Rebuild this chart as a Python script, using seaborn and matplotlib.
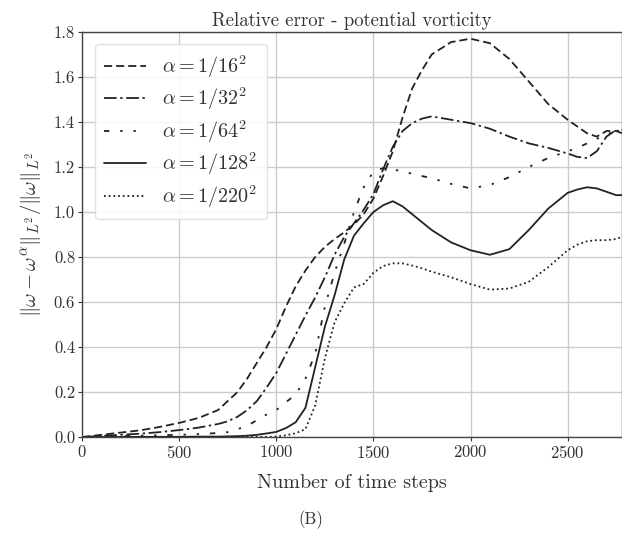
import numpy as np
import pandas as pd
import matplotlib
matplotlib.use("Agg")
import matplotlib.pyplot as plt
import seaborn as sns

steps = [0, 100, 200, 300, 400, 500, 600, 700, 750, 800, 850, 900, 950, 1000, 1050, 1100,
         1150, 1200, 1250, 1300, 1350, 1400, 1450, 1500, 1550, 1600, 1650, 1700, 1750,
         1800, 1900, 2000, 2100, 2200, 2300, 2400, 2500, 2550, 2600, 2650, 2700, 2750, 2780]

err_16 = [0.0, 0.01, 0.02, 0.03, 0.045, 0.063, 0.085, 0.12, 0.16, 0.20, 0.26, 0.33, 0.40,
          0.48, 0.58, 0.67, 0.74, 0.80, 0.845, 0.88, 0.91, 0.945, 0.99, 1.06, 1.16, 1.27,
          1.42, 1.55, 1.63, 1.70, 1.755, 1.77, 1.75, 1.68, 1.58, 1.48, 1.41, 1.38, 1.35,
          1.335, 1.36, 1.36, 1.35]
err_32 = [0.0, 0.005, 0.01, 0.015, 0.022, 0.031, 0.042, 0.058, 0.07, 0.09, 0.12, 0.16,
          0.22, 0.285, 0.37, 0.455, 0.54, 0.62, 0.71, 0.81, 0.89, 0.95, 1.01, 1.08, 1.19,
          1.29, 1.36, 1.395, 1.415, 1.425, 1.41, 1.395, 1.37, 1.335, 1.305, 1.285, 1.26,
          1.245, 1.24, 1.27, 1.335, 1.365, 1.35]
err_64 = [0.0, 0.002, 0.004, 0.006, 0.008, 0.01, 0.013, 0.018, 0.022, 0.035, 0.05, 0.075,
          0.10, 0.12, 0.155, 0.19, 0.26, 0.37, 0.58, 0.73, 0.86, 1.0, 1.11, 1.18, 1.195,
          1.19, 1.18, 1.17, 1.16, 1.15, 1.125, 1.105, 1.12, 1.155, 1.20, 1.24, 1.27,
          1.285, 1.305, 1.325, 1.345, 1.36, 1.365]
err_128 = [0.0, 0.0, 0.0, 0.001, 0.001, 0.001, 0.002, 0.002, 0.003, 0.004, 0.006, 0.01,
           0.016, 0.023, 0.04, 0.066, 0.13, 0.31, 0.49, 0.63, 0.79, 0.895, 0.95, 1.0,
           1.03, 1.048, 1.025, 0.99, 0.955, 0.92, 0.865, 0.83, 0.81, 0.835, 0.92, 1.015,
           1.085, 1.10, 1.11, 1.105, 1.09, 1.075, 1.075]
err_220 = [0.0, 0.0, 0.0, 0.0, 0.0, 0.0, 0.0, 0.0, 0.0, 0.0, 0.001, 0.001, 0.001, 0.002,
           0.008, 0.017, 0.035, 0.14, 0.35, 0.51, 0.595, 0.665, 0.68, 0.73, 0.76, 0.772,
           0.772, 0.762, 0.75, 0.735, 0.71, 0.68, 0.655, 0.66, 0.69, 0.755, 0.83, 0.855,
           0.87, 0.875, 0.875, 0.88, 0.89]

labels = [r"$\alpha = 1/16^2$", r"$\alpha = 1/32^2$", r"$\alpha = 1/64^2$",
          r"$\alpha = 1/128^2$", r"$\alpha = 1/220^2$"]
series = [err_16, err_32, err_64, err_128, err_220]
styles = [(0, (4.5, 2.2)), (0, (7, 2, 1.3, 2)), (0, (3, 6, 1.3, 6, 1.3, 6)), "-", (0, (1, 1.6))]

sns.set_theme(style="whitegrid")
plt.rcParams.update({
    "font.family": ["serif"],
    "font.serif": ["cmr10", "DejaVu Serif"],
    "mathtext.fontset": "cm",
    "axes.unicode_minus": False,
    "axes.formatter.use_mathtext": True,
})

fig = plt.figure(figsize=(6.22, 5.33), dpi=100)
ax = fig.add_axes([0.132, 0.18, 0.868, 0.76])

for vals, lab, ls in zip(series, labels, styles):
    df = pd.DataFrame({"step": steps, "err": vals})
    sns.lineplot(data=df, x="step", y="err", ax=ax, label=lab, color="#222222",
                 linestyle=ls, linewidth=1.3)

ax.set_xlim(0, 2780)
ax.set_ylim(0, 1.8)
ax.set_xticks([0, 500, 1000, 1500, 2000, 2500])
ax.set_yticks(np.arange(0, 1.81, 0.2))
ax.set_yticklabels([f"{v:.1f}" for v in np.arange(0, 1.81, 0.2)])
ax.tick_params(axis="both", labelsize=12, colors="#333333", length=3, width=0.8,
               direction="out", left=True, bottom=True, pad=2)
for s in ax.spines.values():
    s.set_color("#444444")
    s.set_linewidth(1.0)
ax.grid(True, color="#cccccc", linewidth=1.0)

ax.set_title("Relative error - potential vorticity", fontsize=13.5, color="#333333", pad=4)
ax.set_xlabel("Number of time steps", fontsize=14.5, color="#333333", labelpad=9)
ax.set_ylabel(r"$\|\omega - \omega^\alpha\|_{L^2} / \|\omega\|_{L^2}$", fontsize=15,
              color="#333333", labelpad=8)

leg = ax.legend(loc="upper left", fontsize=14.5, frameon=True, fancybox=True,
                handlelength=2.1, handletextpad=0.8, borderpad=0.45, labelspacing=0.3,
                bbox_to_anchor=(0.005, 0.995))
leg.get_frame().set_edgecolor("#dddddd")
leg.get_frame().set_alpha(0.85)
for t in leg.get_texts():
    t.set_color("#333333")

fig.text(0.5, 0.008, "(B)", ha="center", va="bottom", fontsize=12, color="#333333")

fig.savefig("out.png", dpi=100)
